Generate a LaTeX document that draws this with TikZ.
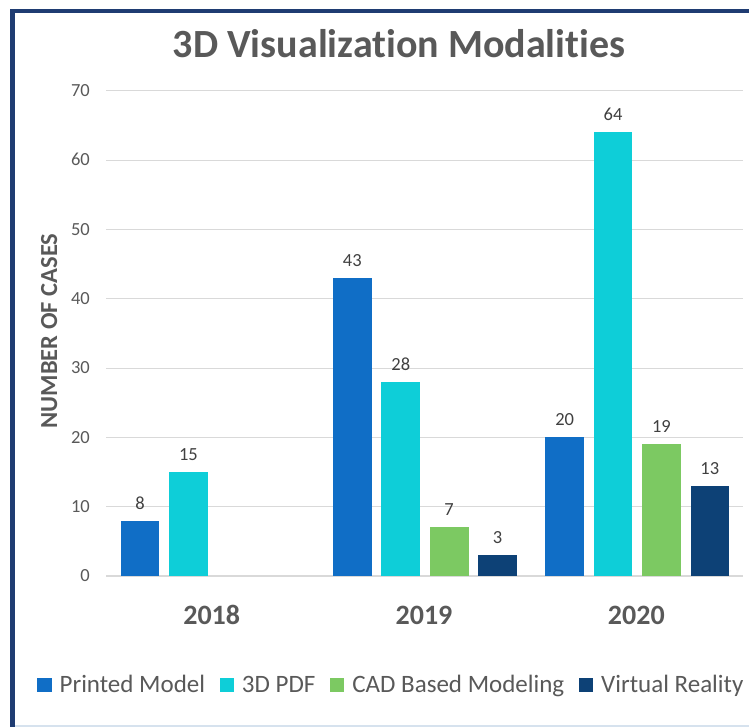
\documentclass[tikz,border=0pt]{standalone}
\usepackage{fontspec}
\setmainfont{Carlito}[RawFeature={-liga;-clig;-dlig;-calt}]
\usetikzlibrary{positioning}
\definecolor{vizprinted}{RGB}{16,110,198}
\definecolor{vizpdf}{RGB}{14,206,216}
\definecolor{vizcad}{RGB}{124,201,98}
\definecolor{vizvr}{RGB}{13,65,118}
\definecolor{vizgray}{RGB}{89,89,89}
\definecolor{vizdark}{RGB}{64,64,64}
\definecolor{vizgrid}{RGB}{217,217,217}
\definecolor{vizframe}{RGB}{31,60,114}
\definecolor{vizframelight}{RGB}{214,226,238}
\tikzset{
	barlabel/.style={anchor=base, inner sep=0pt, text=vizdark, font=\fontsize{18.5}{18.5}\selectfont},
	ticklabel/.style={anchor=base east, inner sep=0pt, text=vizgray, font=\fontsize{18.5}{18.5}\selectfont},
	yearlabel/.style={anchor=base, inner sep=0pt, text=vizgray, font=\bfseries\fontsize{28}{28}\selectfont},
	legsquare/.style={minimum size=14.4pt, inner sep=0pt},
	legtext/.style={inner sep=0pt, text height=14pt, text depth=0pt, text=vizgray, font=\fontsize{25}{25}\selectfont}
}

\begin{document}
\begin{tikzpicture}[x=1pt,y=-1pt]
	\useasboundingbox (0,0) rectangle (749,727);
	% frame
	\draw[vizframelight, line width=2pt] (15,726) -- (749,726);
	\draw[vizframe, line width=4.5pt] (749,11.25) -- (12.5,11.25) -- (12.5,727);

	\node[
		anchor=base,
		inner sep=0pt,
		text=vizgray,
		font=\bfseries\fontsize{40}{40}\selectfont
	] (title) at (399,58) {3D Visualization Modalities};

	% grid and y ticks
	\foreach \v in {0,10,...,70}{
		\draw[vizgrid, line width=1.2pt] (106,{576-6.93*\v}) -- (743,{576-6.93*\v});
		\node[ticklabel] (tick\v) at (90,{581.7-6.93*\v}) {\v};
	}
	\node[
		rotate=90,
		anchor=base,
		inner sep=0pt,
		text=vizgray,
		font=\bfseries\fontsize{24.5}{24.5}\selectfont
	] (ytitle) at (57,331) {NUMBER OF CASES};

	% bars
	\foreach \g/\k/\v/\c in {0/0/8/vizprinted, 0/1/15/vizpdf,
			1/0/43/vizprinted, 1/1/28/vizpdf, 1/2/7/vizcad, 1/3/3/vizvr,
			2/0/20/vizprinted, 2/1/64/vizpdf, 2/2/19/vizcad, 2/3/13/vizvr}{
		\fill[\c] ({120.7+212.3*\g+48.4*\k},576) rectangle ++(38.7,{-6.93*\v});
		\node[barlabel] (val\g\k) at ({140.05+212.3*\g+48.4*\k},{576-6.93*\v-11.5}) {\v};
	}

	% years
	\foreach \g/\yr in {0/2018, 1/2019, 2/2020}
		\node[yearlabel] (year\yr) at ({211.7+212.3*\g},624) {\yr};

	% legend
	\node[legsquare, fill=vizprinted] (legsq1) at (44.5,685) {};
	\node[legtext, right=7.5pt of legsq1] (legtxt1) {Printed Model};
	\node[legsquare, fill=vizpdf, right=14.2pt of legtxt1] (legsq2) {};
	\node[legtext, right=7.5pt of legsq2] (legtxt2) {3D PDF};
	\node[legsquare, fill=vizcad, right=14.2pt of legtxt2] (legsq3) {};
	\node[legtext, right=7.5pt of legsq3] (legtxt3) {CAD Based Modeling};
	\node[legsquare, fill=vizvr, right=14.2pt of legtxt3] (legsq4) {};
	\node[legtext, right=7.5pt of legsq4] (legtxt4) {Virtual Reality};
\end{tikzpicture}
\end{document}
